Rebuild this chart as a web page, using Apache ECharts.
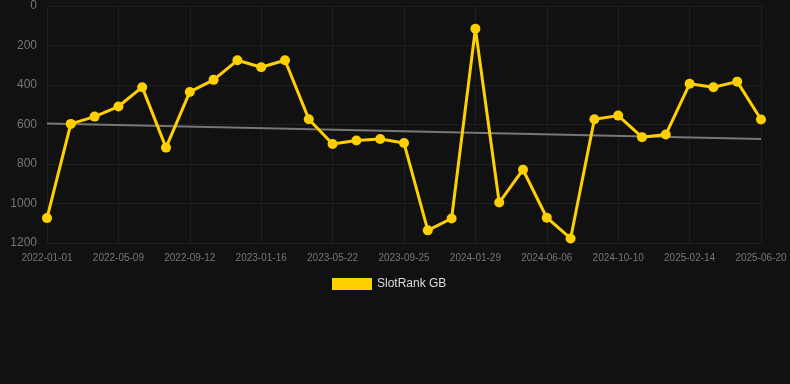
<!DOCTYPE html>
<html>
<head>
<meta charset="utf-8">
<script src="https://cdn.jsdelivr.net/npm/echarts@6/dist/echarts.min.js"></script>
<style>
html,body{margin:0;padding:0;background:#111111;}
#chart{width:790px;height:384px;}
</style>
</head>
<body>
<div id="chart"></div>
<script>
const categories = ["2022-01-01","2022-02-13","2022-03-27","2022-05-09","2022-06-20","2022-08-01","2022-09-12","2022-10-24","2022-12-05","2023-01-16","2023-02-27","2023-04-10","2023-05-22","2023-07-03","2023-08-14","2023-09-25","2023-11-06","2023-12-18","2024-01-29","2024-03-11","2024-04-23","2024-06-06","2024-07-18","2024-08-29","2024-10-10","2024-11-21","2025-01-02","2025-02-14","2025-03-28","2025-05-09","2025-06-20"];
const rankValues = [1074,597,560,509,411,717,435,374,275,310,275,573,699,681,673,694,1136,1076,115,995,829,1072,1177,573,555,664,651,394,411,383,575];
const trendValues = [595,673];
const seriesName = "SlotRank GB";

const chart = echarts.init(document.getElementById('chart'));
chart.setOption({
  backgroundColor: '#111111',
  animation: false,
  grid: {left: 47, right: 29, top: 6, bottom: 141},
  legend: {
    data: [seriesName],
    top: 273,
    left: 327,
    itemWidth: 40,
    itemHeight: 12,
    itemGap: 10,
    icon: 'rect',
    textStyle: {color: '#dddddd', fontSize: 12, fontFamily: 'Liberation Sans, Arial, sans-serif'}
  },
  xAxis: {
    type: 'category',
    data: categories,
    boundaryGap: false,
    axisLine: {show: false},
    axisTick: {show: false},
    axisLabel: {interval: 2, color: '#777777', fontSize: 10, margin: 10, fontFamily: 'Liberation Sans, Arial, sans-serif'},
    splitLine: {show: true, interval: 2, lineStyle: {color: '#1e1e1e', width: 1}}
  },
  yAxis: {
    type: 'value',
    inverse: true,
    min: 0,
    max: 1200,
    interval: 200,
    axisLine: {show: false},
    axisTick: {show: false},
    axisLabel: {color: '#777777', fontSize: 12, margin: 10, formatter: function (v) { return String(v); }, fontFamily: 'Liberation Sans, Arial, sans-serif'},
    splitLine: {show: true, lineStyle: {color: '#1e1e1e', width: 1}}
  },
  series: [
    {
      name: 'trend',
      type: 'line',
      data: [[0, trendValues[0]], [categories.length - 1, trendValues[1]]],
      symbol: 'none',
      lineStyle: {color: '#777777', width: 2},
      z: 1,
      silent: true
    },
    {
      name: seriesName,
      type: 'line',
      data: rankValues,
      symbol: 'circle',
      symbolSize: 10,
      itemStyle: {color: '#FFD000'},
      lineStyle: {color: '#FFD000', width: 3},
      z: 2
    }
  ]
});
</script>
</body>
</html>
